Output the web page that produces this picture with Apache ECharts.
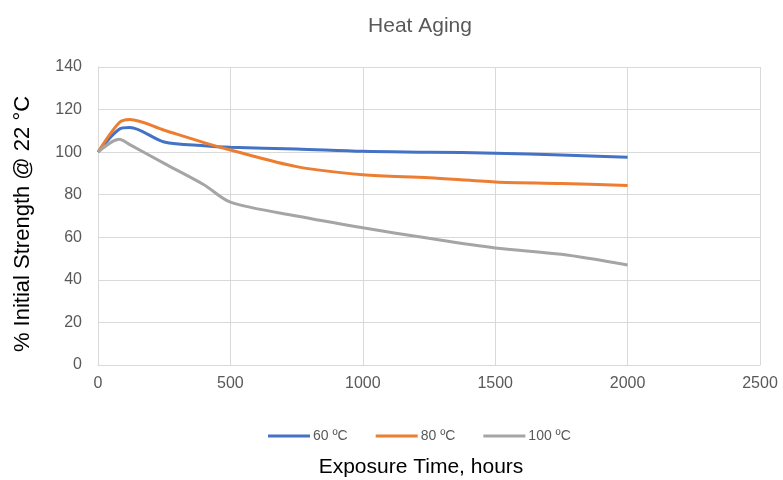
<!DOCTYPE html>
<html>
<head>
<meta charset="utf-8">
<script src="https://cdn.jsdelivr.net/npm/echarts@6/dist/echarts.min.js"></script>
<style>html,body{margin:0;padding:0;background:#fff}#c{width:783px;height:480px}</style>
</head>
<body>
<div id="c"></div>
<script>
const hours = [0, 80, 120, 250, 400, 500, 750, 1000, 1250, 1500, 1750, 2000];
const s60 = [100, 110.8, 111.6, 104.8, 103.0, 102.3, 101.5, 100.4, 100.0, 99.5, 98.6, 97.6];
const s80 = [100, 113.8, 115.3, 110.3, 104.5, 101.0, 93.2, 89.4, 88.0, 86.0, 85.3, 84.3];
const s100 = [100, 106.0, 103.5, 94.7, 84.7, 76.5, 70.0, 64.5, 59.5, 55.0, 52.0, 47.0];
const seriesNames = ['60 ºC', '80 ºC', '100 ºC'];
const colors = ['#4472C4', '#ED7D31', '#A5A5A5'];
const xTicks = {min: 0, max: 2500, interval: 500};
const yTicks = {min: 0, max: 140, interval: 20};

const pairs = arr => hours.map((h, i) => [h, arr[i]]);
const font = 'Liberation Sans, Arial, sans-serif';
const chart = echarts.init(document.getElementById('c'));
chart.setOption({
  animation: false,
  title: {text: 'Heat Aging', left: 415, top: 11, textAlign: 'center',
    textStyle: {fontFamily: font, fontSize: 21, fontWeight: 'normal', color: '#595959'}},
  legend: {top: 424, left: 263, itemWidth: 42, itemHeight: 3, icon: 'rect', itemGap: 28,
    textStyle: {fontFamily: font, fontSize: 14, color: '#595959', padding: [0, 0, 0, -2]},
    data: seriesNames},
  grid: {left: 98, right: 23, top: 67, bottom: 115, outerBoundsMode: 'none', containLabel: false},
  xAxis: {type: 'value', min: xTicks.min, max: xTicks.max, interval: xTicks.interval,
    name: 'Exposure Time, hours', nameLocation: 'middle', nameGap: 92,
    nameTextStyle: {fontFamily: font, fontSize: 21, color: '#000', padding: [0, 16, 0, 0]},
    axisLine: {show: true, lineStyle: {color: '#D9D9D9'}}, axisTick: {show: false},
    axisLabel: {fontFamily: font, fontSize: 16, color: '#595959', margin: 11, formatter: v => String(v)},
    splitLine: {show: true, lineStyle: {color: '#D9D9D9', width: 1}}},
  yAxis: {type: 'value', min: yTicks.min, max: yTicks.max, interval: yTicks.interval,
    name: '% Initial Strength @ 22 °C', nameLocation: 'middle', nameGap: 64,
    nameTextStyle: {fontFamily: font, fontSize: 22, color: '#000', padding: [0, 16, 0, 0]},
    axisLine: {show: true, lineStyle: {color: '#D9D9D9'}}, axisTick: {show: false},
    axisLabel: {fontFamily: font, fontSize: 16, color: '#595959', margin: 16},
    splitLine: {show: true, lineStyle: {color: '#D9D9D9', width: 1}}},
  series: [s60, s80, s100].map((arr, i) => ({
    name: seriesNames[i], type: 'line', data: pairs(arr), smooth: 0.3, symbol: 'none',
    lineStyle: {color: colors[i], width: 3}, itemStyle: {color: colors[i]}
  }))
});
</script>
</body>
</html>
